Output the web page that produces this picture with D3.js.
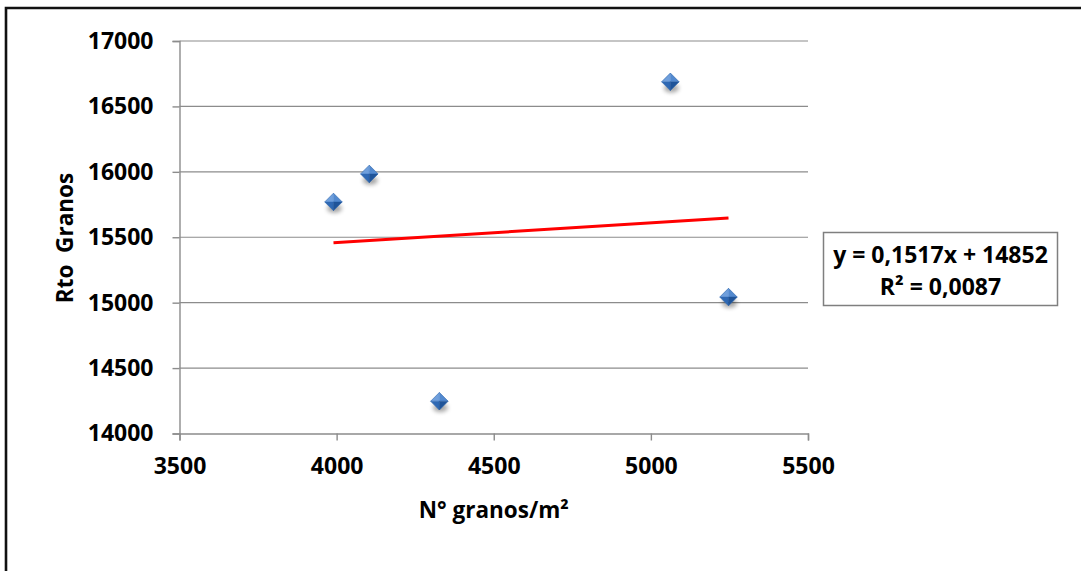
<!DOCTYPE html>
<html>
<head>
<meta charset="utf-8">
<script src="https://cdn.jsdelivr.net/npm/d3@7"></script>
<style>
  html, body { margin: 0; padding: 0; background: #fff; }
  svg { display: block; }
  text { font-family: "Open Sans", "Liberation Sans", Arial, sans-serif; font-weight: bold; fill: #000; }
</style>
</head>
<body>
<svg id="chart" width="1081" height="571"></svg>
<script>
// Grain count per m² against grain yield
const granosM2 = [3990, 4104, 4327, 5062, 5247];
const rtoGranos = [15770, 15984, 14247, 16688, 15043];
const xTicks = [3500, 4000, 4500, 5000, 5500];
const yTicks = [14000, 14500, 15000, 15500, 16000, 16500, 17000];
const slope = 0.1517;
const intercept = 14852;
const r2 = "0,0087";
const eqLabel = "y = 0,1517x + 14852";
const xTitle = "N° granos/m²";
const yTitle = "Rto  Granos";

const FONT = "Open Sans, Liberation Sans, Arial, sans-serif";
const svg = d3.select("#chart");

// outer frame (left and top edges visible)
svg.append("path")
  .attr("d", "M6,571 V8 H1081")
  .attr("fill", "none").attr("stroke", "#111").attr("stroke-width", 2.6);

const x = d3.scaleLinear().domain([3500, 5500]).range([179.5, 808]);
const y = d3.scaleLinear().domain([14000, 17000]).range([433.5, 41]);

const defs = svg.append("defs");
const blur = defs.append("filter").attr("id", "shadow")
  .attr("x", "-50%").attr("y", "-50%").attr("width", "200%").attr("height", "200%");
blur.append("feGaussianBlur").attr("stdDeviation", 2.2);

// horizontal gridlines
svg.append("g").selectAll("line").data(yTicks.filter(d => d > 14000)).join("line")
  .attr("x1", x(3500)).attr("x2", x(5500))
  .attr("y1", d => y(d)).attr("y2", d => y(d))
  .attr("stroke", "#8c8c8c").attr("stroke-width", 1.2);

function styleAxis(g) {
  g.select(".domain").attr("stroke", "#8c8c8c").attr("stroke-width", 1.4);
  g.selectAll(".tick line").attr("stroke", "#8c8c8c").attr("stroke-width", 1.4);
  g.selectAll(".tick text").attr("font-size", 23)
    .attr("font-family", FONT).attr("font-weight", "bold").attr("fill", "#000");
}

// y axis
const yAxis = svg.append("g").attr("transform", `translate(${x(3500)},0)`)
  .call(d3.axisLeft(y).tickValues(yTicks).tickSize(7).tickPadding(19).tickFormat(d3.format("d")));
styleAxis(yAxis);

// x axis
const xAxis = svg.append("g").attr("transform", `translate(0,${y(14000)})`)
  .call(d3.axisBottom(x).tickValues(xTicks).tickSize(7).tickPadding(17).tickFormat(d3.format("d")));
styleAxis(xAxis);

// axis titles
svg.append("text").attr("x", (x(3500) + x(5500)) / 2).attr("y", 518)
  .attr("text-anchor", "middle").attr("font-size", 22.5).text(xTitle);
svg.append("text").attr("transform", "translate(73,238) rotate(-90)")
  .attr("text-anchor", "middle").attr("font-size", 22.5).attr("xml:space", "preserve").text(yTitle);

// linear trend line
const x0 = d3.min(granosM2), x1 = d3.max(granosM2);
svg.append("line")
  .attr("x1", x(x0)).attr("y1", y(slope * x0 + intercept))
  .attr("x2", x(x1)).attr("y2", y(slope * x1 + intercept))
  .attr("stroke", "#ff0000").attr("stroke-width", 3);

// diamond markers with facets and soft shadow
const s = 8.7;
const pts = granosM2.map((d, i) => ({ px: x(d), py: y(rtoGranos[i]) }));
const mk = svg.append("g").selectAll("g").data(pts).join("g")
  .attr("transform", d => `translate(${d.px},${d.py})`);
mk.append("ellipse").attr("cx", 1).attr("cy", 6.5).attr("rx", 7.5).attr("ry", 4.2)
  .attr("fill", "#000").attr("opacity", 0.35).attr("filter", "url(#shadow)");
const facets = [
  { p: [[0, -s], [-s, 0], [0, 0]], c: "#6f9fdc" },
  { p: [[0, -s], [s, 0], [0, 0]], c: "#5289cf" },
  { p: [[-s, 0], [0, s], [0, 0]], c: "#2f69b4" },
  { p: [[s, 0], [0, s], [0, 0]], c: "#1f5499" }
];
facets.forEach(f => {
  mk.append("path").attr("d", "M" + f.p.map(q => q.join(",")).join("L") + "Z")
    .attr("fill", f.c).attr("stroke", f.c).attr("stroke-width", 0.4);
});
mk.append("path").attr("d", `M0,${-s}L${s},0L0,${s}L${-s},0Z`)
  .attr("fill", "none").attr("stroke", "#3a6fb0").attr("stroke-width", 0.6);

// regression equation box
svg.append("rect").attr("x", 823.5).attr("y", 232.5).attr("width", 234).attr("height", 73)
  .attr("fill", "#fff").attr("stroke", "#7f7f7f").attr("stroke-width", 1.5);
svg.append("text").attr("x", 940.5).attr("y", 263).attr("text-anchor", "middle")
  .attr("font-size", 23).text(eqLabel);
svg.append("text").attr("x", 940.5).attr("y", 295).attr("text-anchor", "middle")
  .attr("font-size", 23).text("R² = " + r2);
</script>
</body>
</html>
